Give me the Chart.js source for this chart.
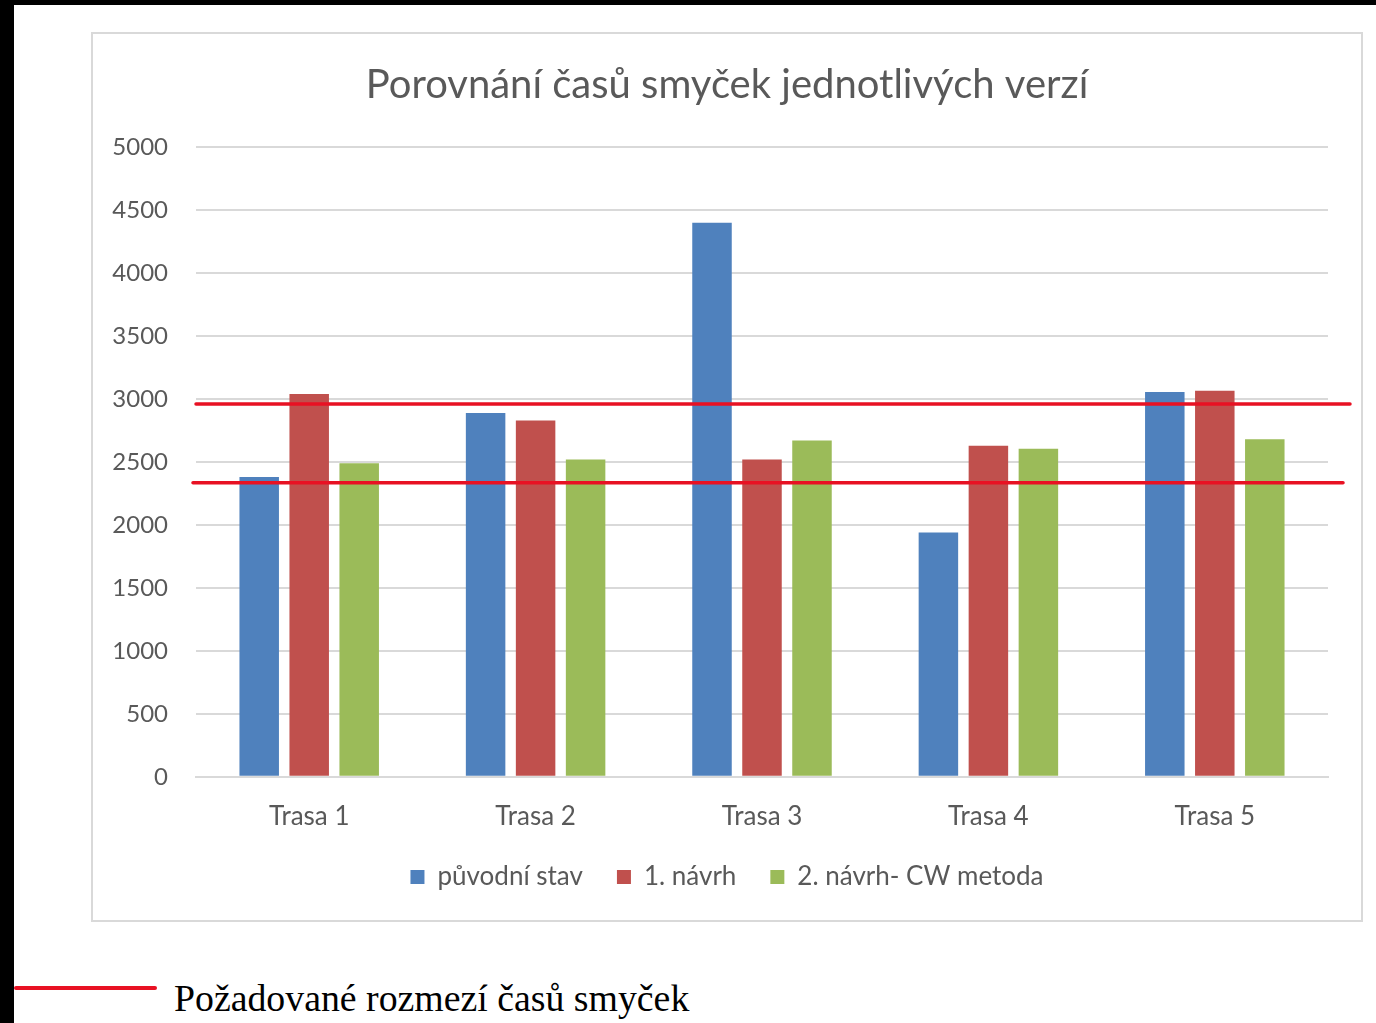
<!DOCTYPE html>
<html>
<head>
<meta charset="utf-8">
<script src="https://cdn.jsdelivr.net/npm/chart.js@4"></script>
<style>
  body { margin: 0; background: #fff; width: 1376px; height: 1023px; overflow: hidden; position: relative; }
  .bandLeft { position: absolute; left: 0; top: 0; width: 14px; height: 1023px; background: #000; }
  .bandTop { position: absolute; left: 0; top: 0; width: 1376px; height: 5px; background: #000; }
  .box { position: absolute; left: 91px; top: 32px; width: 1268px; height: 886px; border: 2px solid #d9d9d9; }
  .box canvas { display: block; }
  .keyLine { position: absolute; left: 14px; top: 986px; width: 143px; height: 4px; background: #e81123; border-radius: 2px; }
  .keyText { position: absolute; left: 174px; top: 980px; font-family: "Liberation Serif", "Times New Roman", serif; font-size: 37.8px; line-height: 1; color: #000; white-space: nowrap; }
</style>
</head>
<body>
<div class="bandLeft"></div>
<div class="bandTop"></div>
<div class="box"><canvas id="casyChart" width="1268" height="886"></canvas></div>
<div class="keyLine"></div>
<div class="keyText">Požadované rozmezí časů smyček</div>

<script>
// data
const trasy = ['Trasa 1', 'Trasa 2', 'Trasa 3', 'Trasa 4', 'Trasa 5'];
const puvodniStav = [2380, 2890, 4400, 1940, 3055];
const navrh1 = [3040, 2830, 2520, 2630, 3065];
const navrh2CW = [2490, 2520, 2670, 2605, 2680];
const rozmezi = [2960, 2335]; // pozadovane meze
const yTicks = { min: 0, max: 5000, step: 500 };

const seda = '#595959';
const mrizka = '#d9d9d9';

// cervene cary pres graf (presahuji doprava)
const mezePlugin = {
  id: 'meze',
  afterDatasetsDraw(chart) {
    const { ctx, chartArea, scales } = chart;
    const ext = [[0, 22], [-3, 15]];
    ctx.save();
    ctx.strokeStyle = '#e81123';
    ctx.lineWidth = 3.5;
    ctx.lineCap = 'round';
    rozmezi.forEach((v, i) => {
      const y = scales.y.getPixelForValue(v);
      ctx.beginPath();
      ctx.moveTo(chartArea.left + ext[i][0], y);
      ctx.lineTo(chartArea.right + ext[i][1], y);
      ctx.stroke();
    });
    ctx.restore();
  }
};

const ctx_casy = document.getElementById('casyChart').getContext('2d');
const casyChart = new Chart(ctx_casy, {
  type: 'bar',
  data: {
    labels: trasy,
    datasets: [
      { label: 'původní stav', data: puvodniStav, backgroundColor: '#4f81bd' },
      { label: '1. návrh', data: navrh1, backgroundColor: '#c0504d' },
      { label: '2. návrh- CW metoda', data: navrh2CW, backgroundColor: '#9bbb59' }
    ]
  },
  options: {
    responsive: false,
    animation: false,
    categoryPercentage: 0.6625,
    barPercentage: 0.79,
    layout: { padding: { left: 0, right: 0, top: 0, bottom: 20 } },
    plugins: {
      title: {
        display: true,
        text: 'Porovnání časů smyček jednotlivých verzí',
        color: seda,
        font: { family: 'Lato', size: 40, weight: 'normal' },
        padding: { top: 26.6, bottom: 38.6 }
      },
      legend: {
        position: 'bottom',
        labels: {
          color: seda,
          font: { family: 'Lato', size: 26 },
          boxWidth: 14,
          boxHeight: 14,
          padding: 34
        }
      },
      tooltip: { enabled: false }
    },
    scales: {
      x: {
        grid: { display: false, drawTicks: false },
        border: { color: mrizka, width: 2 },
        ticks: { color: seda, font: { family: 'Lato', size: 26 }, padding: 24 },
        afterFit(scale) { scale.height -= 26; }
      },
      y: {
        min: yTicks.min,
        max: yTicks.max,
        grid: { color: mrizka, lineWidth: 2, drawTicks: false },
        border: { display: false },
        ticks: {
          stepSize: yTicks.step, color: seda, font: { family: 'Lato', size: 24 }, padding: 28,
          callback: (v) => String(v)
        },
        afterFit(scale) { scale.width = 103; }
      },
      // prazdne misto vpravo, aby titulek zustal na stredu
      okraj: {
        position: 'right',
        grid: { display: false, drawTicks: false },
        border: { display: false },
        ticks: { display: false },
        afterFit(scale) { scale.width = 33; }
      }
    }
  },
  plugins: [mezePlugin]
});
</script>
</body>
</html>
